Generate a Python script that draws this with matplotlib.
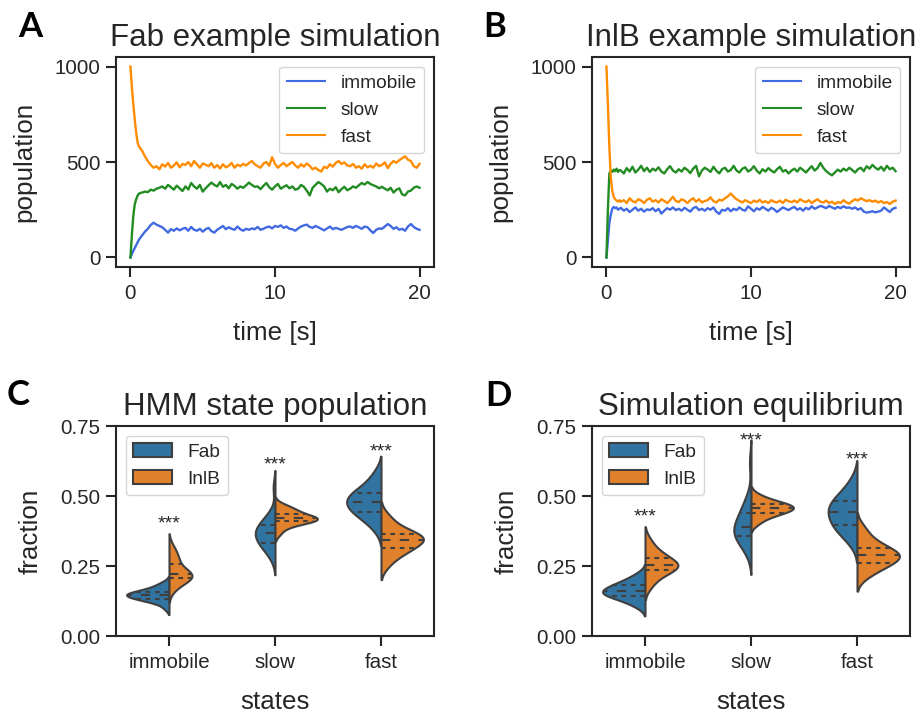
import numpy as np
import matplotlib
matplotlib.use("Agg")
import matplotlib.pyplot as plt
from matplotlib.patches import Patch

plt.rcParams['font.family'] = ['Liberation Sans', 'DejaVu Sans']
plt.rcParams['text.color'] = '.15'
plt.rcParams['axes.labelcolor'] = '.15'
plt.rcParams['axes.edgecolor'] = '.15'
plt.rcParams['axes.linewidth'] = 1.5
plt.rcParams['xtick.color'] = '.15'
plt.rcParams['ytick.color'] = '.15'
plt.rcParams['xtick.major.size'] = 7.5
plt.rcParams['ytick.major.size'] = 7.5
plt.rcParams['xtick.major.width'] = 1.5
plt.rcParams['ytick.major.width'] = 1.5
plt.rcParams['xtick.major.pad'] = 5
plt.rcParams['xtick.labelsize'] = 14.8
plt.rcParams['ytick.labelsize'] = 14.8
plt.rcParams['axes.labelsize'] = 18.7
plt.rcParams['axes.titlesize'] = 22.5
plt.rcParams['legend.fontsize'] = 13.8

# ---- simulation traces (time in s, population counts) ----
time_s = np.concatenate((np.arange(0, 1, 0.1), np.arange(1, 20.01, 0.2)))

fab_immobile = [0, 18, 35, 50, 65, 80, 95, 105, 115, 125,
                135, 150, 170, 182, 172, 165,
                158, 145, 130, 148, 140, 152, 142, 150, 155, 140,
                160, 145, 140, 150, 135, 148, 155, 138, 130, 145,
                155, 165, 148, 158, 150, 145, 162, 148, 140, 150,
                145, 152, 148, 160, 145, 150, 158, 162, 152, 165,
                160, 168, 155, 162, 150, 148, 140, 152, 162, 168,
                172, 160, 155, 165, 158, 150, 142, 152, 162, 148,
                155, 150, 145, 152, 160, 162, 155, 165, 158, 150,
                162, 158, 142, 128, 145, 152, 150, 162, 175, 165,
                150, 158, 145, 150, 140, 162, 175, 160, 150, 145]
fab_slow = [0, 120, 220, 280, 305, 325, 335, 338, 340, 342,
            345, 342, 355, 350, 360, 365,
            372, 360, 380, 368, 355, 376, 362, 348, 372, 356,
            390, 372, 360, 380, 345, 362, 378, 392, 380, 372,
            395, 370, 380, 362, 385, 375, 360, 372, 365, 378,
            392, 380, 370, 372, 358, 375, 390, 368, 355, 372,
            385, 360, 370, 378, 362, 372, 355, 360, 380, 370,
            350, 325, 365, 380, 395, 385, 372, 345, 360, 352,
            368, 342, 358, 370, 352, 360, 372, 365, 378, 390,
            382, 395, 385, 378, 372, 362, 370, 360, 352, 365,
            340, 355, 362, 330, 325, 345, 350, 365, 372, 365]
fab_fast = [1000, 890, 800, 720, 650, 600, 580, 570, 560, 545,
            530, 505, 485, 470, 478, 462,
            488, 476, 495, 470, 482, 498, 472, 490, 485, 500,
            478, 505, 488, 470, 492, 486, 478, 494, 470, 484,
            466, 488, 472, 480, 495, 470, 486, 478, 490, 482,
            495, 505, 488, 478, 470, 492, 500, 480, 525, 490,
            470, 484, 495, 478, 490, 500, 482, 470, 488, 476,
            492, 480, 462, 470, 458, 450, 475, 468, 488, 476,
            495, 505, 490, 498, 482, 478, 490, 470, 478, 465,
            488, 472, 480, 470, 492, 478, 485, 498, 468, 490,
            505, 496, 510, 520, 530, 512, 505, 478, 470, 490]

inlb_immobile = [0, 90, 180, 225, 255, 265, 258, 262, 250, 255,
                 260, 245, 255, 238, 250, 262, 245, 255, 240, 252,
                 248, 258, 242, 255, 230, 245, 258, 250, 262, 248,
                 255, 245, 260, 250, 240, 258, 265, 248, 255, 245,
                 258, 250, 262, 240, 228, 250, 245, 258, 242, 255,
                 248, 262, 250, 245, 268, 255, 242, 258, 250, 265,
                 255, 245, 260, 252, 238, 250, 262, 255, 248, 258,
                 265, 250, 258, 245, 260, 252, 268, 255, 262, 270,
                 265, 258, 270, 262, 255, 265, 258, 268, 260, 262,
                 255, 262, 250, 258, 240, 235, 238, 242, 236, 240,
                 245, 262, 250, 238, 255, 260]
inlb_slow = [0, 250, 440, 455, 448, 460, 452, 465, 448, 458,
             455, 440, 468, 450, 475, 445, 460, 480, 452, 470,
             448, 465, 455, 472, 450, 440, 462, 478, 455, 445,
             462, 450, 470, 458, 442, 465, 480, 425, 455, 470,
             460, 448, 475, 455, 440, 462, 470, 450, 458, 480,
             455, 445, 465, 472, 450, 460, 478, 455, 440, 462,
             450, 468, 455, 445, 462, 475, 450, 458, 440, 455,
             465, 450, 470, 458, 445, 462, 478, 455, 468, 495,
             470, 452, 440, 430, 445, 460, 450, 465, 455, 470,
             458, 445, 462, 470, 452, 478, 465, 485, 470, 460,
             475, 455, 480, 462, 470, 452]
inlb_fast = [1000, 800, 580, 420, 350, 318, 305, 298, 292, 300,
             292, 300, 285, 310, 295, 288, 305, 298, 285, 302,
             310, 292, 300, 288, 305, 296, 285, 300, 318, 295,
             290, 305, 298, 285, 300, 310, 292, 305, 288, 296,
             300, 315, 295, 288, 302, 298, 310, 320, 335, 318,
             305, 296, 288, 300, 292, 285, 298, 290, 302, 288,
             295, 285, 300, 292, 288, 298, 285, 302, 295, 290,
             298, 288, 305, 295, 290, 300, 285, 296, 305, 292,
             288, 298, 285, 292, 280, 290, 285, 300, 288, 282,
             295, 305, 298, 310, 302, 295, 300, 292, 298, 288,
             295, 285, 290, 280, 292, 298]

# ---- state fractions per cell (immobile, slow, fast) ----
states = ['immobile', 'slow', 'fast']

hmm_fab = [
    [0.100, 0.118, 0.125, 0.129, 0.131, 0.134, 0.139, 0.143, 0.145, 0.146,
     0.147, 0.149, 0.152, 0.155, 0.158, 0.161, 0.166, 0.172, 0.180, 0.190],
    [0.280, 0.300, 0.315, 0.325, 0.330, 0.335, 0.345, 0.352, 0.360, 0.365,
     0.370, 0.375, 0.380, 0.388, 0.395, 0.402, 0.410, 0.425, 0.440, 0.530],
    [0.380, 0.405, 0.420, 0.432, 0.440, 0.446, 0.455, 0.462, 0.470, 0.476,
     0.482, 0.488, 0.495, 0.502, 0.510, 0.518, 0.525, 0.540, 0.560, 0.585],
]
hmm_inlb = [
    [0.165, 0.180, 0.190, 0.198, 0.203, 0.207, 0.211, 0.214, 0.217, 0.220,
     0.223, 0.226, 0.232, 0.240, 0.255, 0.268, 0.276, 0.288, 0.302, 0.320],
    [0.365, 0.385, 0.395, 0.402, 0.407, 0.410, 0.413, 0.415, 0.417, 0.419,
     0.421, 0.423, 0.426, 0.430, 0.436, 0.442, 0.447, 0.453, 0.460, 0.468],
    [0.250, 0.275, 0.290, 0.300, 0.308, 0.315, 0.322, 0.330, 0.337, 0.342,
     0.346, 0.350, 0.354, 0.358, 0.364, 0.370, 0.378, 0.390, 0.410, 0.430],
]
sim_fab = [
    [0.105, 0.118, 0.128, 0.135, 0.140, 0.144, 0.148, 0.152, 0.155, 0.158,
     0.162, 0.166, 0.170, 0.175, 0.180, 0.185, 0.190, 0.198, 0.208, 0.222],
    [0.300, 0.320, 0.335, 0.345, 0.352, 0.358, 0.365, 0.372, 0.380, 0.386,
     0.392, 0.398, 0.405, 0.415, 0.436, 0.448, 0.458, 0.470, 0.500, 0.620],
    [0.330, 0.355, 0.370, 0.382, 0.390, 0.398, 0.410, 0.420, 0.430, 0.438,
     0.445, 0.452, 0.460, 0.470, 0.480, 0.488, 0.498, 0.510, 0.530, 0.560],
]
sim_inlb = [
    [0.175, 0.195, 0.210, 0.222, 0.230, 0.236, 0.240, 0.244, 0.248, 0.252,
     0.256, 0.260, 0.265, 0.272, 0.278, 0.285, 0.295, 0.305, 0.320, 0.345],
    [0.400, 0.415, 0.425, 0.432, 0.437, 0.441, 0.445, 0.449, 0.452, 0.455,
     0.458, 0.461, 0.464, 0.467, 0.470, 0.474, 0.478, 0.484, 0.492, 0.505],
    [0.210, 0.228, 0.240, 0.250, 0.257, 0.263, 0.270, 0.276, 0.281, 0.286,
     0.290, 0.295, 0.300, 0.306, 0.313, 0.322, 0.332, 0.345, 0.365, 0.390],
]
# y (baseline) of the significance stars
hmm_stars = [0.385, 0.594, 0.642]
sim_stars = [0.409, 0.681, 0.614]

BLUE = '#3274a1'
ORANGE = '#e1812c'
GRAY = '#3f3f3f'
LW = 1.5


def kde(data):
    data = np.asarray(data)
    bw = data.std(ddof=1) * len(data) ** (-1 / 5)
    support = np.linspace(data.min() - 2 * bw, data.max() + 2 * bw, 100)
    dens = np.exp(-0.5 * ((support[:, None] - data[None, :]) / bw) ** 2).sum(1)
    dens /= len(data) * bw * np.sqrt(2 * np.pi)
    return support, dens


def trace_panel(ax, immobile, slow, fast, title):
    ax.plot(time_s, immobile, color='royalblue', lw=1.7, label='immobile')
    ax.plot(time_s, slow, color='forestgreen', lw=1.7, label='slow')
    ax.plot(time_s, fast, color='darkorange', lw=1.7, label='fast')
    ax.set_xticks([0, 10, 20])
    ax.set_yticks([0, 500, 1000])
    ax.set_xlabel('time [s]', labelpad=13)
    ax.set_ylabel('population', labelpad=13)
    ax.set_title(title, pad=8)
    leg = ax.legend(loc='upper right', labelspacing=0.5)
    for line in leg.get_lines():
        line.set_linewidth(LW)


def violin_panel(ax, fab, inlb, stars, title):
    for i, (a, b) in enumerate(zip(fab, inlb)):
        sa, da = kde(a)
        sb, db = kde(b)
        peak = max(da.max(), db.max())
        for s, d, data, col, sign in ((sa, da, a, BLUE, -1), (sb, db, b, ORANGE, 1)):
            w = d / peak * 0.4
            ax.fill_betweenx(s, i, i + sign * w, facecolor=col,
                             edgecolor=GRAY, linewidth=LW)
            qs = np.percentile(data, [25, 50, 75])
            for q, dash in zip(qs, ([2.25, 2.25], [4.5, 4.5], [2.25, 2.25])):
                k = np.argmin(np.abs(s - q))
                ax.plot([i, i + sign * w[k] * 0.99], [q, q], color=GRAY,
                        lw=LW, dashes=dash)
        ax.text(i, stars[i], '***', ha='center', va='baseline', fontsize=14)
    ax.set_xlim(-0.5, 2.5)
    ax.set_ylim(0, 0.75)
    ax.set_xticks(range(len(states)))
    ax.set_xticklabels(states)
    ax.set_yticks([0, 0.25, 0.5, 0.75])
    ax.set_yticklabels(['0.00', '0.25', '0.50', '0.75'])
    ax.set_xlabel('states', labelpad=13)
    ax.set_ylabel('fraction', labelpad=13)
    ax.set_title(title, pad=8)
    handles = [Patch(facecolor=BLUE, edgecolor=GRAY, linewidth=LW),
               Patch(facecolor=ORANGE, edgecolor=GRAY, linewidth=LW)]
    ax.legend(handles, ['Fab', 'InlB'], loc='upper left', labelspacing=0.5)


fig = plt.figure(figsize=(9.2, 7.16), dpi=100)
W, H = 920, 716


def add_axes(left, top, right, bottom):
    return fig.add_axes([left / W, 1 - bottom / H, (right - left) / W, (bottom - top) / H])


ax_a = add_axes(116, 57, 434, 267)
ax_b = add_axes(592, 57, 910, 267)
ax_c = add_axes(116, 426, 434, 636)
ax_d = add_axes(592, 426, 910, 636)

trace_panel(ax_a, fab_immobile, fab_slow, fab_fast, 'Fab example simulation')
trace_panel(ax_b, inlb_immobile, inlb_slow, inlb_fast, 'InlB example simulation')
violin_panel(ax_c, hmm_fab, hmm_inlb, hmm_stars, 'HMM state population')
violin_panel(ax_d, sim_fab, sim_inlb, sim_stars, 'Simulation equilibrium')

for letter, x, y in (('A', 18, 37), ('B', 483, 37), ('C', 7, 405), ('D', 485, 406)):
    fig.text(x / W, 1 - y / H, letter, fontsize=25, fontweight='bold',
             color='black', family=['Lato', 'DejaVu Sans'], va='baseline')

fig.savefig('out.png', dpi=100)
